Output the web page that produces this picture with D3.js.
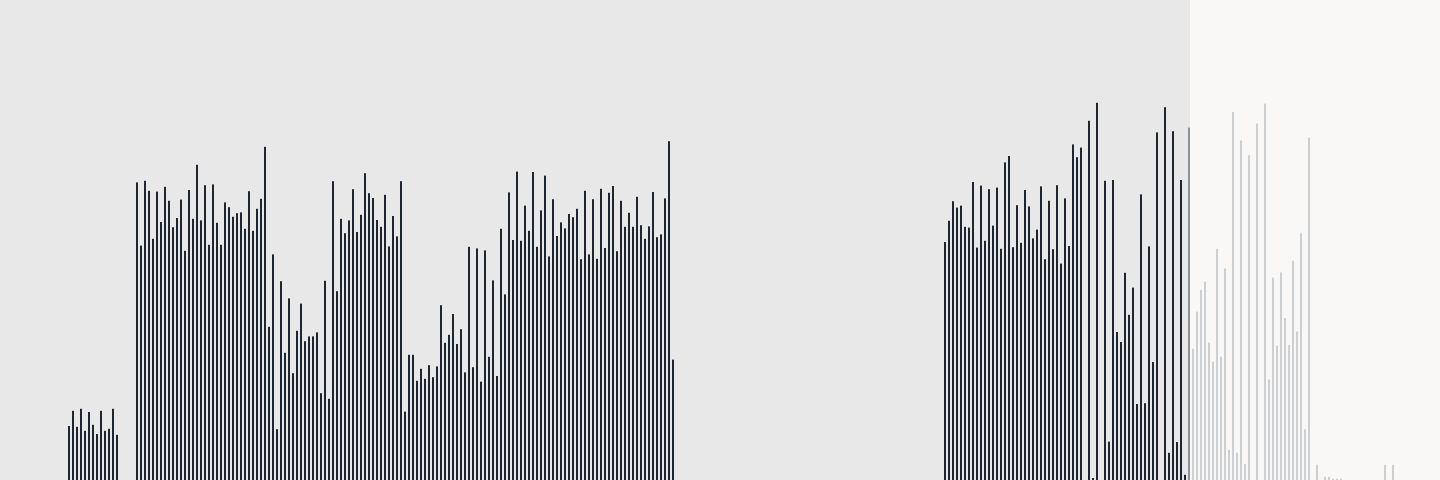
<!DOCTYPE html>
<html>
<head>
<meta charset="utf-8">
<script src="https://cdn.jsdelivr.net/npm/d3@7"></script>
<style>
  html, body { margin: 0; padding: 0; background: #e8e8e8; overflow: hidden; }
  svg { display: block; }
</style>
</head>
<body>
<svg id="chart"></svg>
<script>
// hourly slots, past (measured) then now, then forecast

var actual = [
  0,0,0,0,0,0,0,0,0,0,0,0,0,0,0,0,0,
  13.5,17.3,13.3,17.8,12.3,17.0,13.8,11.5,17.3,12.3,12.8,17.8,11.3,
  0,0,0,0,
  74.4,58.6,74.8,72.3,60.3,72.1,64.5,73.3,69.8,63.2,65.5,70.1,57.3,72.5,
  65.3,78.8,64.9,73.7,58.8,73.9,64.3,58.8,69.4,68.2,65.8,66.7,66.9,62.8,
  72.2,62.3,67.8,70.3,83.3,38.3,56.4,12.7,49.7,31.8,45.4,26.7,37.3,44.1,
  34.7,35.9,35.9,36.9,21.7,49.8,20.3,74.7,47.2,65.3,61.7,64.9,72.7,62.0,
  66.3,76.7,71.7,70.5,65.0,63.3,71.3,58.4,66.0,60.9,74.7,17.1,31.3,31.3,
  24.8,27.8,25.3,28.7,25.7,28.4,43.7,34.3,36.3,41.5,34.0,37.7,26.9,58.3,
  28.2,57.9,24.6,57.4,30.8,49.9,26.0,62.8,46.4,71.9,60.0,77.1,59.8,68.6,
  62.3,77.0,58.3,67.4,76.1,55.9,70.2,61.0,64.4,62.9,66.5,65.7,67.8,55.2,
  72.3,56.4,70.2,55.3,72.8,58.0,71.8,73.5,57.2,69.8,63.3,66.8,63.3,70.8,
  63.7,60.3,63.4,72.0,60.7,61.4,70.4,84.7,30.1,
  0,0,0,0,0,0,0,0,0,0,0,0,0,0,0,0,0,0,0,0,0,0,0,0,0,0,0,0,0,0,0,0,0,0,
  0,0,0,0,0,0,0,0,0,0,0,0,0,0,0,0,0,0,0,0,0,0,0,0,0,0,0,0,0,0,0,0,0,
  59.5,64.8,69.7,68.1,68.6,63.3,63.1,74.5,58.1,73.6,59.8,72.7,63.6,73.1,
  57.8,79.4,81.0,58.2,68.7,59.3,72.5,68.4,60.4,62.6,73.4,55.2,69.8,57.7,
  73.7,54.1,70.4,58.5,83.9,80.7,83.1,0,89.8,0.5,94.3,0,74.8,9.6,
  75.0,37.0,34.5,51.8,41.3,48.1,19.0,71.4,19.2,58.4,29.5,86.9,0,93.2,
  6.8,87.2,9.5,75.0,1.3
];

var current = 88.1;

var forecast = [
  32.8,42.1,47.5,49.6,34.3,29.6,57.8,30.8,52.9,7.5,92.0,6.8,84.9,4.0,
  81.2,0,89.1,0,94.1,25.1,50.6,33.6,51.9,40.5,33.8,54.8,37.1,61.7,
  12.7,85.6,0,3.8,0,0.8,0.8,0.3,0.3,0.3,0,0,0,0,0,0,0,0,
  0,0,3.8,0,3.8,0,0,0,0,0,0,0,0,0,0,0
];

var width = 1440, height = 480;

var rows = [];
actual.forEach(function(v) { rows.push({ v: v, kind: "actual" }); });
rows.push({ v: current, kind: "current" });
forecast.forEach(function(v) { rows.push({ v: v, kind: "forecast" }); });
rows.forEach(function(d, i) { d.slot = i; });

var svg = d3.select("#chart")
  .attr("width", width)
  .attr("height", height);

var x = d3.scaleBand()
  .domain(rows.map(d => d.slot))
  .range([0, 1438])
  .paddingInner(0.5)
  .paddingOuter(0);

var y = d3.scaleLinear()
  .domain([0, 120])
  .range([height, 0]);

var colors = { actual: "#1e2731", current: "#8d9298", forecast: "#cdd0d3" };

// past / future backgrounds, split just after the "now" bar
var split = x(actual.length) + x.bandwidth();
svg.append("rect")
  .attr("x", 0).attr("y", 0)
  .attr("width", split).attr("height", height)
  .attr("fill", "#e8e8e8");
svg.append("rect")
  .attr("x", split).attr("y", 0)
  .attr("width", width - split).attr("height", height)
  .attr("fill", "#f9f8f7");

svg.append("g")
  .selectAll("rect")
  .data(rows.filter(d => d.v > 0))
  .enter().append("rect")
    .attr("x", d => x(d.slot))
    .attr("width", x.bandwidth())
    .attr("y", d => y(d.v))
    .attr("height", d => height - y(d.v))
    .attr("fill", d => colors[d.kind]);
</script>
</body>
</html>
